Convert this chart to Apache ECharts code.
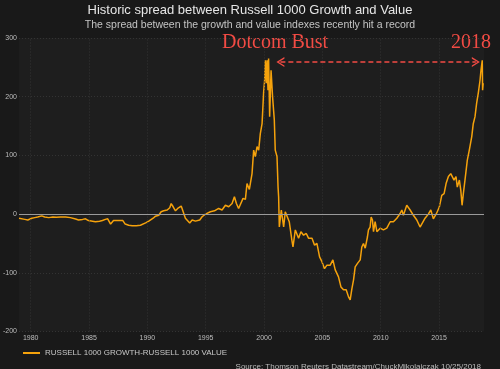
<!DOCTYPE html>
<html><head><meta charset="utf-8">
<script src="https://cdn.jsdelivr.net/npm/echarts@6/dist/echarts.min.js"></script>
<style>html,body{margin:0;padding:0;background:#191919;}#c{width:500px;height:369px;}</style>
</head><body><div id="c"></div>
<script>
// decimal years
const years = [1979.0,1979.15,1979.5,1979.75,1980.1,1980.35,1980.6,1980.95,1981.2,1981.55,1981.9,1982.2,1982.55,1983.0,1983.4,1983.85,1984.1,1984.45,1984.7,1984.95,1985.3,1985.55,1985.9,1986.15,1986.4,1986.6,1986.85,1987.1,1987.45,1987.9,1988.1,1988.4,1988.7,1989.05,1989.4,1989.85,
1990.12,1990.27,1990.5,1990.7,1990.98,1991.18,1991.4,1991.7,1991.92,1992.04,1992.21,1992.41,1992.6,1992.9,1993.12,1993.26,1993.4,1993.63,1993.84,1994.12,1994.49,1994.69,1994.98,1995.4,1995.75,1996.11,1996.4,1996.69,1996.97,1997.26,1997.46,1997.63,1997.82,1997.97,1998.2,1998.4,1998.54,1998.74,1998.97,
1999.11,1999.25,1999.4,1999.54,1999.68,1999.83,1999.96,2000.05,2000.11,2000.2,2000.26,2000.34,2000.39,2000.48,2000.6,2000.73,2000.88,2000.96,2001.11,2001.2,2001.25,2001.31,2001.48,2001.68,2001.82,2001.97,2002.16,2002.39,2002.48,2002.68,2002.82,2002.96,2003.16,2003.39,2003.62,2003.81,2004.11,2004.33,2004.53,2004.76,2004.96,2005.18,2005.39,2005.67,2005.9,2006.1,2006.38,2006.59,2006.81,2007.04,2007.24,2007.38,2007.53,2007.67,2007.81,2008.01,2008.24,2008.38,2008.52,2008.67,2008.86,2008.95,2009.09,2009.18,2009.29,2009.38,2009.52,2009.67,2009.95,2010.23,2010.52,2010.81,2011.09,2011.38,2011.66,2011.81,2011.94,2012.23,2012.52,2012.8,2013.09,2013.37,2013.52,2013.8,2014.08,2014.29,2014.51,2014.8,2015.02,2015.23,2015.43,2015.6,2015.8,2016.0,2016.14,2016.28,2016.45,2016.56,2016.74,2016.86,2016.97,2017.08,2017.22,2017.42,2017.59,2017.8,2017.93,2018.08,2018.22,2018.36,2018.51,2018.59,2018.7,2018.73,2018.78];
const spread = [-7,-8.5,-9,-10,-7,-6,-5,-3,-5,-6,-5,-5.5,-5,-5,-6,-8.5,-10,-9,-8,-11,-12,-13,-12,-11,-9,-8,-17,-11,-11,-11,-17,-19,-20,-20,-19,-15,
-12,-14,-7,-3.5,-2,4,5.6,7,10.8,18,12.5,5.7,9.6,13.6,1,-7,-9,-15,-10,-12,-10,-4.5,0,4,5.6,9.6,7,15,12.5,18,29.5,18,9.6,12.5,26.7,25,52,42,69,
109,98,115,109,137,154,206,228,262,223,262,211,265,166,245,200,160,109,98,46,29,-22,7,-22,4,7,-13,-45,-56,-27,-24,-41,-30,-36,-33,-41,-41,-53,-50,-73,-81,-93,-87,-87,-78,-95,-107,-124,-129,-129,-141,-146,-127,-112,-90,-84,-78,-56,-50,-58,-39,-27,-22,-5,-10,-30,-13,-30,-24,-27,-24,-13,-13,-7,1,7,-2,15,7,-2,-10,-22,-24,-7,0,7,-8,2,12,32,35,52,64,69,72,58,64,46,58,41,15,35,58,92,109,132,154,166,189,206,228,245,262,211,223];
const xTicks = [1980,1985,1990,1995,2000,2005,2010,2015];
const yTicks = [-200,-100,0,100,200,300];
const seriesName = 'RUSSELL 1000 GROWTH-RUSSELL 1000 VALUE';
const arrowSpan = [2001.4, 2018.15];
const arrowLevel = 259;

const FONT = '"Liberation Sans", Arial, sans-serif';
const chart = echarts.init(document.getElementById('c'), null, {renderer:'canvas'});
const chevron = 'path://M0,10 L5,0 L10,10 L8.4,10 L5,3 L1.6,10 Z';
chart.setOption({
  backgroundColor: '#191919',
  animation: false,
  title: [
    {text: 'Historic spread between Russell 1000 Growth and Value',
     subtext: 'The spread between the growth and value indexes recently hit a record',
     left: 'center', top: -1, itemGap: 3,
     textStyle: {fontFamily: FONT, fontSize: 13, fontWeight: 'normal', color: '#e6e6e6'},
     subtextStyle: {fontFamily: FONT, fontSize: 10.5, color: '#c4c4c4'}},
    {text: 'Source: Thomson Reuters Datastream/ChuckMikolajczak 10/25/2018',
     right: 14, top: 358,
     textStyle: {fontFamily: FONT, fontSize: 8, fontWeight: 'normal', color: '#bdbdbd'}}
  ],
  legend: {
    data: [seriesName], left: 18, top: 344, icon: 'rect', itemWidth: 17, itemHeight: 2, itemGap: 5,
    textStyle: {fontFamily: FONT, fontSize: 8, color: '#c8c8c8'}
  },
  grid: {left: 18, right: 16, top: 38, bottom: 37.5, show: true, backgroundColor: '#1e1e1e', borderWidth: 0, containLabel: false},
  xAxis: {
    type: 'value', min: 1979, max: 2018.85,
    axisLine: {show: false}, axisTick: {show: false}, splitLine: {show: false},
    axisLabel: {customValues: xTicks, formatter: v => String(v), fontFamily: FONT, fontSize: 7, color: '#bdbdbd', margin: 3}
  },
  yAxis: {
    type: 'value', min: -200, max: 300, interval: 100,
    axisLine: {show: false}, axisTick: {show: false},
    splitLine: {show: true, lineStyle: {color: '#333333', type: [1,2], width: 1}},
    axisLabel: {fontFamily: FONT, fontSize: 7, color: '#bdbdbd', margin: 2}
  },
  graphic: [
    {type: 'text', left: 222, top: 33, style: {text: 'Dotcom Bust', font: '20px "Liberation Serif", "Times New Roman", serif', fill: '#f24b44'}},
    {type: 'text', left: 451, top: 33, style: {text: '2018', font: '20px "Liberation Serif", "Times New Roman", serif', fill: '#f24b44'}}
  ],
  series: [
    {
      name: 'grid', type: 'line', data: [], z: 1, silent: true,
      markLine: {
        silent: true, symbol: 'none', label: {show: false}, animation: false,
        data: xTicks.map(v => ({xAxis: v, lineStyle: {color: '#333333', type: [1,2], width: 1}}))
          .concat([{yAxis: 0, lineStyle: {color: '#9a9a9a', type: 'solid', width: 1}}])
      }
    },
    {
      name: seriesName, type: 'line', z: 3,
      data: years.map((y, i) => [y, spread[i]]),
      showSymbol: false, symbol: 'none',
      lineStyle: {color: '#f5a20c', width: 1.5},
      itemStyle: {color: '#f5a20c'},
      markLine: {
        silent: true, label: {show: false}, animation: false,
        symbol: [chevron, chevron], symbolSize: [10, 8],
        lineStyle: {color: '#f24b44', type: [5, 3], width: 1.5},
        data: [[{coord: [arrowSpan[0], arrowLevel]}, {coord: [arrowSpan[1], arrowLevel]}]]
      }
    }
  ]
});
</script></body></html>
